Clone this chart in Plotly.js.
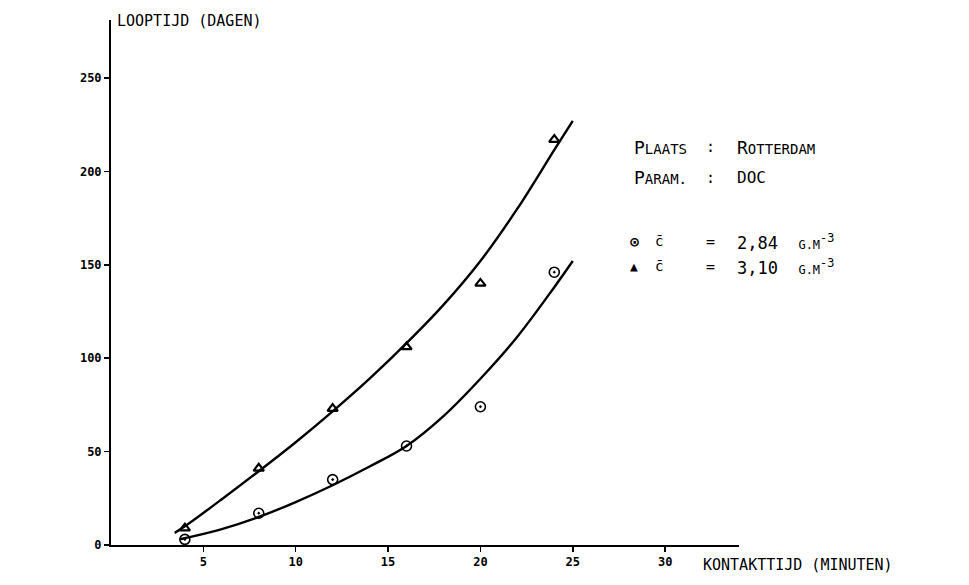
<!DOCTYPE html>
<html>
<head>
<meta charset="utf-8">
<script src="https://cdn.plot.ly/plotly-3.0.1.min.js"></script>
<style>html,body{margin:0;padding:0;background:#fff;}#chart{width:969px;height:585px;}</style>
</head>
<body>
<div id="chart"></div>
<script>
// Measured points
const kontaktTijd = [4, 8, 12, 16, 20, 24];
const looptijdC284 = [3, 17, 35, 53, 74, 146];
const looptijdC310 = [9, 41, 73, 106, 140, 217];

// Fitted curves as drawn
const curveUpperX = [3.45, 4, 6, 8, 10, 12, 14, 16, 18, 20, 22, 24, 25];
const curveUpperY = [6.5, 10, 24.5, 39.5, 55, 71.5, 89, 108, 128.5, 152, 180, 211.5, 227];
const curveLowerX = [3.72, 4, 6, 8, 10, 12, 14, 16, 18, 20, 22, 24, 25];
const curveLowerY = [3.0, 3.6, 8.5, 15, 23, 32, 42, 53, 69, 89, 111.5, 138, 152];

const xTicks = [5, 10, 15, 20, 25, 30];
const yTicks = [0, 50, 100, 150, 200, 250];

const F = "DejaVu Sans Mono, monospace";
const sc = (a, b) => a + '<span style="font-size:14px">' + b + '</span>';

const traces = [
  {x: curveUpperX, y: curveUpperY, mode: 'lines', line: {color: '#000', width: 2.4, shape: 'spline', smoothing: 1}, hoverinfo: 'skip'},
  {x: curveLowerX, y: curveLowerY, mode: 'lines', line: {color: '#000', width: 2.4, shape: 'spline', smoothing: 1}, hoverinfo: 'skip'},
  {x: kontaktTijd, y: looptijdC310, mode: 'markers',
   marker: {symbol: 'triangle-up-open', size: 9, color: '#000', line: {width: 2.2, color: '#000'}}},
  {x: kontaktTijd, y: looptijdC284, mode: 'markers',
   marker: {symbol: 'circle-open-dot', size: 10, color: '#000', line: {width: 1.6, color: '#000'}}}
];

const ann = (x, y, text, size) => ({x, y, xref: 'x', yref: 'y', text, showarrow: false,
  xanchor: 'left', yanchor: 'middle', font: {family: F, size: size || 14, color: '#000'}});

const layout = {
  width: 969, height: 585,
  margin: {l: 111, r: 230, t: 20, b: 40},
  paper_bgcolor: '#fff', plot_bgcolor: '#fff',
  showlegend: false,
  xaxis: {range: [0, 34], showgrid: false, zeroline: false, showline: true, linecolor: '#000', linewidth: 2,
    tickvals: xTicks, ticktext: xTicks.map(String), ticks: 'outside', ticklen: 5, tickwidth: 1.5, tickcolor: '#000',
    tickfont: {family: F, size: 12, color: '#000', weight: 'bold'}},
  yaxis: {range: [0, 281], showgrid: false, zeroline: false, showline: true, linecolor: '#000', linewidth: 2,
    tickvals: yTicks, ticktext: yTicks.map(String), ticks: 'outside', ticklen: 5, tickwidth: 1.5, tickcolor: '#000',
    tickfont: {family: F, size: 12, color: '#000', weight: 'bold'}},
  annotations: [
    {xref: 'paper', yref: 'paper', x: 0.006, y: 1.0, xanchor: 'left', yanchor: 'top', showarrow: false,
     text: 'LOOPTIJD (DAGEN)', font: {family: F, size: 15, color: '#000'}, yshift: 10},
    {xref: 'paper', yref: 'paper', x: 0.94, y: 0, xanchor: 'left', yanchor: 'top', showarrow: false,
     text: 'KONTAKTTIJD (MINUTEN)', font: {family: F, size: 15, color: '#000'}, yshift: -9},
    ann(28.2, 213, sc('P', 'LAATS'), 18),
    ann(32.1, 213, ':', 15),
    ann(33.8, 213, sc('R', 'OTTERDAM'), 18),
    ann(28.2, 196.5, sc('P', 'ARAM.'), 18),
    ann(32.1, 196.5, ':', 15),
    ann(33.8, 196.5, 'DOC', 16),
    ann(28.0, 162, '<b>⊙</b>', 15),
    ann(29.35, 162.5, 'c̄', 14),
    ann(32.1, 162, '=', 15),
    ann(33.8, 162, '2,84  <span style="font-size:12px">G.M</span><sup>-3</sup>', 17),
    ann(28.0, 149, '▲', 13),
    ann(29.35, 149.5, 'c̄', 14),
    ann(32.1, 149, '=', 15),
    ann(33.8, 149, '3,10  <span style="font-size:12px">G.M</span><sup>-3</sup>', 17)
  ]
};

Plotly.newPlot('chart', traces, layout, {displayModeBar: false, staticPlot: true});
</script>
</body>
</html>
